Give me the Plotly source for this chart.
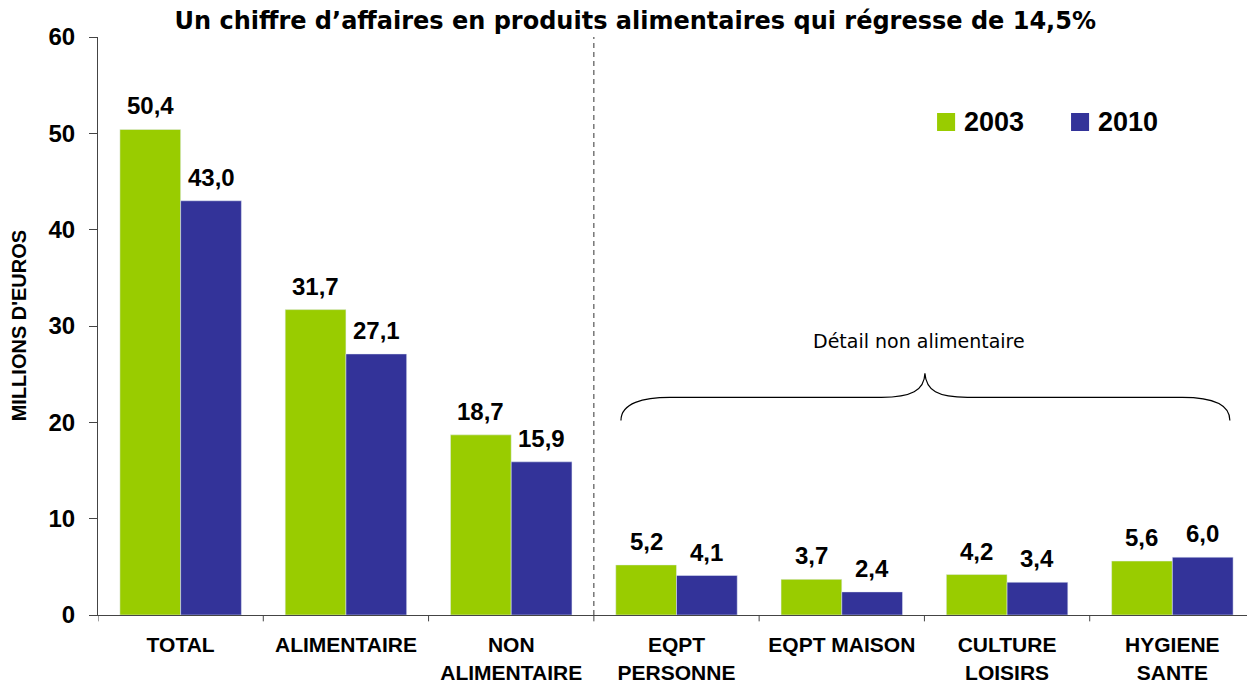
"""Chiffre d'affaires 2003 vs 2010 par famille de produits."""

import plotly.graph_objects as go

categories = [
    "TOTAL",
    "ALIMENTAIRE",
    "NON<br>ALIMENTAIRE",
    "EQPT<br>PERSONNE",
    "EQPT MAISON",
    "CULTURE<br>LOISIRS",
    "HYGIENE<br>SANTE",
]
values_2003 = [50.4, 31.7, 18.7, 5.2, 3.7, 4.2, 5.6]
values_2010 = [43.0, 27.1, 15.9, 4.1, 2.4, 3.4, 6.0]
y_ticks = [0, 10, 20, 30, 40, 50, 60]
years = ["2003", "2010"]

GREEN = "#99CC00"
BLUE = "#333399"
AXIS = "#444444"
ARIAL = "Liberation Sans, Arial, sans-serif"
VERDANA = "DejaVu Sans, Verdana, sans-serif"

BARGAP = 0.265
HALF_BAR = (1 - BARGAP) / 4  # decalage du centre de chaque barre dans le groupe

# la page html garde la marge de 8px du <body> : on reduit la figure d'autant
PAGE_W, PAGE_H, BODY_MARGIN = 1255, 684, 8


def fmt(v):
    return f"{v:.1f}".replace(".", ",")


xs = list(range(len(categories)))

fig = go.Figure()
for name, vals, color in [(years[0], values_2003, GREEN), (years[1], values_2010, BLUE)]:
    fig.add_trace(go.Bar(x=xs, y=vals, name=name, marker_color=color, showlegend=False))

# etiquettes de valeurs au-dessus des barres
for vals, sign in [(values_2003, -1), (values_2010, 1)]:
    for i, v in enumerate(vals):
        fig.add_annotation(
            x=i + sign * HALF_BAR, y=v, text=f"<b>{fmt(v)}</b>", showarrow=False,
            yanchor="bottom", yshift=8,
            font={"family": ARIAL, "size": 24, "color": "black"},
        )

# separateur pointille entre le global et le detail
fig.add_shape(
    type="line", x0=2.5, x1=2.5, y0=0, y1=60,
    line={"color": "#333333", "width": 1, "dash": "5px,4px"},
)

# accolade "Détail non alimentaire"
brace = (
    "M 2.664,20.2 C 2.664,22.0 2.80,22.6 2.96,22.6 L 4.24,22.6 "
    "C 4.42,22.6 4.50,23.3 4.503,25.1 C 4.51,23.3 4.58,22.6 4.76,22.6 "
    "L 6.06,22.6 C 6.22,22.6 6.348,22.0 6.348,20.2"
)
fig.add_shape(type="path", path=brace, line={"color": "black", "width": 1.2})
fig.add_annotation(
    x=4.47, y=28.4, text="Détail non alimentaire", showarrow=False,
    font={"family": VERDANA, "size": 19, "color": "black"},
)

# legende dessinee a la main (carres plus grands que ceux de plotly)
legend_items = [(years[0], GREEN, 0.7252), (years[1], BLUE, 0.8410)]
for label, color, lx in legend_items:
    fig.add_shape(
        type="rect", xref="paper", yref="paper",
        x0=lx, x1=lx + 0.0156, y0=0.8374, y1=0.8685,
        fillcolor=color, line={"width": 0},
    )
    fig.add_annotation(
        xref="paper", yref="paper", x=lx + 0.0212, y=0.853,
        xanchor="left", yanchor="middle", showarrow=False,
        text=f"<b>{label}</b>",
        font={"family": ARIAL, "size": 27, "color": "black"},
    )

# titre de l'axe y
fig.add_annotation(
    xref="paper", yref="paper", x=-0.068, y=0.5, textangle=-90,
    xanchor="center", yanchor="middle", showarrow=False,
    text="<b>MILLIONS D'EUROS</b>",
    font={"family": ARIAL, "size": 20, "color": "black"},
)

fig.update_layout(
    width=PAGE_W - BODY_MARGIN,
    height=PAGE_H - BODY_MARGIN,
    margin={"l": 90, "r": 0, "t": 29, "b": 69},
    paper_bgcolor="white",
    plot_bgcolor="white",
    barmode="group",
    bargap=BARGAP,
    bargroupgap=0,
    title={
        "text": "<b>Un chiffre d’affaires en produits alimentaires qui régresse de 14,5%</b>",
        "x": 0.503,
        "xanchor": "center",
        "y": 0.981,
        "yanchor": "middle",
        "font": {"family": VERDANA, "size": 24, "color": "black"},
    },
    xaxis={
        "tickmode": "array",
        "tickvals": xs,
        "ticktext": [f"<b>{c}</b>" for c in categories],
        "range": [-0.5, 6.5],
        "tickfont": {"family": ARIAL, "size": 21, "color": "black"},
        "showline": True,
        "linecolor": AXIS,
        "linewidth": 1,
        "ticks": "",
        "showgrid": False,
        "zeroline": False,
        "automargin": False,
        "ticklabelstandoff": 11,
    },
    yaxis={
        "range": [0, 60],
        "tickvals": y_ticks,
        "ticktext": [f"<b>{t}</b>" for t in y_ticks],
        "tickfont": {"family": ARIAL, "size": 24, "color": "black"},
        "showline": True,
        "linecolor": AXIS,
        "linewidth": 1,
        "ticks": "outside",
        "ticklen": 8,
        "tickcolor": AXIS,
        "showgrid": False,
        "zeroline": False,
        "automargin": False,
        "ticklabelstandoff": 9,
    },
)

# ticks de l'axe x aux frontieres des categories
for b in [-0.5, 0.5, 1.5, 2.5, 3.5, 4.5, 5.5, 6.5]:
    fig.add_shape(
        type="line", xref="x", yref="paper", x0=b, x1=b, y0=0, y1=-0.011,
        line={"color": AXIS, "width": 1},
    )

fig.write_html("out.html")
